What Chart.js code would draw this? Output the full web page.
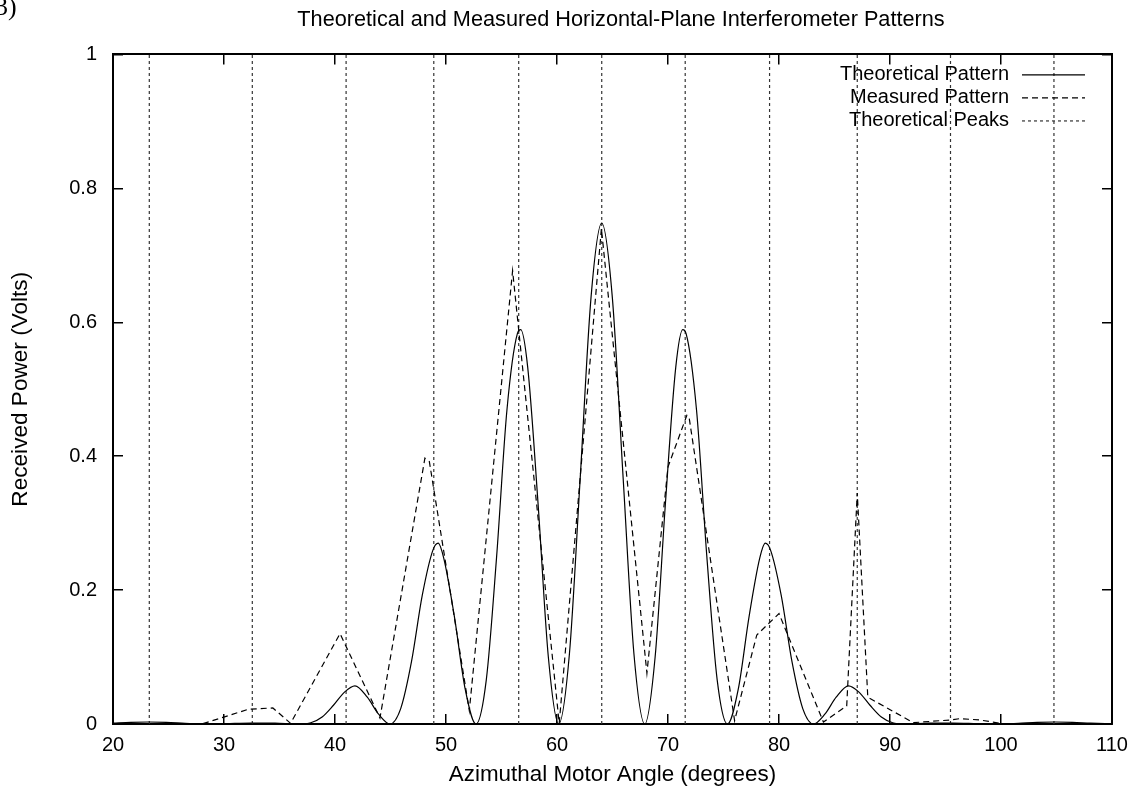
<!DOCTYPE html>
<html>
<head>
<meta charset="utf-8">
<script src="https://cdn.jsdelivr.net/npm/chart.js@4/dist/chart.umd.min.js"></script>
<style>
html,body{margin:0;padding:0;background:#fff;}
#wrap{width:1140px;height:799px;position:relative;}
canvas{display:block;}
</style>
</head>
<body>
<div id="wrap"><canvas id="c" width="1140" height="799"></canvas></div>
<script>
// ---- text ----
const titleText = 'Theoretical and Measured Horizontal-Plane Interferometer Patterns';
const xTitle = 'Azimuthal Motor Angle (degrees)';
const yTitle = 'Received Power (Volts)';
const seriesNames = ['Theoretical Pattern', 'Measured Pattern', 'Theoretical Peaks'];
const cornerLabel = '3)';

// ---- tick labels ----
const xTickValues = [20, 30, 40, 50, 60, 70, 80, 90, 100, 110];
const yTickValues = [0, 0.2, 0.4, 0.6, 0.8, 1];

// ---- theoretical pattern ----
const theoAngles = [20, 21.6, 23.2, 24.8, 26.5, 28.05, 30.2, 32.4, 34.6, 36.8,
  37.82, 38.84, 39.86, 40.88, 41.8, 42.91, 43.93, 44.95,
  45.92, 46.89, 47.86, 48.83, 49.3, 49.79, 50.76, 51.73, 52.7,
  53.63, 54.56, 55.49, 56.43, 56.73, 57.36, 58.29, 59.22, 60.15,
  61.12, 62.09, 63.06, 64.03, 64.99, 65.96, 66.93, 67.91,
  68.84, 69.77, 70.70, 71.33, 71.63, 72.57, 73.50, 74.43, 75.36,
  76.33, 77.30, 78.27, 78.76, 79.23, 80.20, 81.17, 82.14, 83.11,
  84.13, 85.15, 86.26, 87.18, 88.2, 89.22, 90.24, 91.26,
  93.46, 95.66, 97.86, 100.01, 101.56, 103.26, 104.86, 106.46, 108.06, 110];
const theoPower = [0.0012, 0.0025, 0.003, 0.0025, 0.001, 0, 0.0007, 0.0015, 0.0012, 0,
  0.0018, 0.0105, 0.028, 0.048, 0.057, 0.04, 0.0146, 0,
  0.023, 0.093, 0.192, 0.26, 0.27, 0.248, 0.16, 0.052, 0,
  0.066, 0.25, 0.469, 0.583, 0.589, 0.533, 0.33, 0.10, 0,
  0.105, 0.367, 0.636, 0.748, 0.636, 0.367, 0.105, 0,
  0.10, 0.33, 0.533, 0.589, 0.583, 0.469, 0.25, 0.066, 0,
  0.052, 0.16, 0.248, 0.27, 0.26, 0.192, 0.093, 0.023, 0,
  0.0146, 0.04, 0.057, 0.048, 0.028, 0.0105, 0.0018, 0,
  0.0012, 0.0015, 0.0007, 0, 0.001, 0.0025, 0.003, 0.0025, 0.0012, 0.0002];

// ---- measured pattern ----
const measAngles = [20, 28.0, 32.2, 34.4, 36.0, 40.45, 44.05, 48.1, 48.5, 52.1,
  56.0, 60.2, 64.0, 68.1, 70.0, 71.7, 71.9, 76.0, 78.0, 80.0,
  84.0, 86.1, 87.05, 88.0, 92.1, 95.4, 96.3, 98.1, 100.0];
const measPower = [0, 0, 0.022, 0.024, 0.001, 0.135, 0.009, 0.397, 0.392, 0.02,
  0.677, 0.001, 0.74, 0.076, 0.384, 0.461, 0.458, 0.005, 0.133, 0.165,
  0.003, 0.027, 0.345, 0.04, 0.002, 0.006, 0.008, 0.006, 0.001];

// ---- theoretical peak angles (vertical markers) ----
const peakAngles = [23.27, 32.55, 41.0, 48.9, 56.55, 64.03, 71.55, 79.15, 87.05, 95.45, 104.77];
const peakSpan = [0, 1];

const FONT = 'Liberation Sans';

const theoData = theoAngles.map((a, i) => ({x: a, y: theoPower[i]}));
const measData = measAngles.map((a, i) => ({x: a, y: measPower[i]}));
const peakData = [];
peakAngles.forEach(a => {
  peakData.push({x: a, y: peakSpan[0]}, {x: a, y: peakSpan[1]}, {x: a, y: null});
});

const inwardGrid = {
  display: true, drawOnChartArea: false, drawTicks: true,
  tickLength: -10, color: '#000', lineWidth: 1.5
};
const frameBorder = {display: true, color: '#000', width: 2};

const overlay = {
  id: 'overlay',
  afterLayout(chart) {
    if (chart.titleBlock) { chart.titleBlock.left += 17; }
  },
  afterDraw(chart) {
    const ctx = chart.ctx;
    const ca = chart.chartArea;
    ctx.save();
    ctx.font = '20px "' + FONT + '"';
    ctx.fillStyle = '#000';
    ctx.textAlign = 'right';
    ctx.textBaseline = 'middle';
    chart.data.datasets.forEach((d, i) => {
      const y = ca.top + 20.5 + i * 23;
      ctx.fillText(d.label, ca.right - 103, y);
      ctx.beginPath();
      ctx.setLineDash(d.borderDash || []);
      ctx.strokeStyle = d.borderColor;
      ctx.lineWidth = d.borderWidth;
      ctx.moveTo(ca.right - 90, y);
      ctx.lineTo(ca.right - 27, y);
      ctx.stroke();
    });
    ctx.setLineDash([]);
    ctx.font = '26px "Liberation Serif"';
    ctx.textAlign = 'left';
    ctx.textBaseline = 'alphabetic';
    ctx.fillText(cornerLabel, -5, 15);
    ctx.restore();
  }
};

new Chart(document.getElementById('c'), {
  type: 'line',
  data: {
    datasets: [
      {label: seriesNames[0], data: theoData, borderColor: '#000', borderWidth: 1.2,
       pointRadius: 0, fill: false, cubicInterpolationMode: 'monotone'},
      {label: seriesNames[1], data: measData, borderColor: '#000', borderWidth: 1.2,
       borderDash: [6, 4], pointRadius: 0, fill: false, tension: 0},
      {label: seriesNames[2], data: peakData, borderColor: '#333', borderWidth: 1.2,
       borderDash: [3, 3], pointRadius: 0, fill: false, tension: 0, spanGaps: false}
    ]
  },
  options: {
    responsive: false,
    devicePixelRatio: 1,
    animation: false,
    layout: {padding: 0},
    plugins: {
      legend: {display: false},
      tooltip: {enabled: false},
      title: {
        display: true, text: titleText, fullSize: false, color: '#000',
        font: {family: FONT, size: 21.7, weight: 'normal'},
        padding: {top: 7, bottom: 0}
      }
    },
    scales: {
      x: {
        type: 'linear', position: 'bottom', min: 20, max: 110,
        afterBuildTicks: s => { s.ticks = xTickValues.map(v => ({value: v})); },
        afterFit: s => { s.height = 75; s.paddingRight = 0; s.paddingLeft = 0; },
        ticks: {color: '#000', font: {family: FONT, size: 20}, padding: 19, maxRotation: 0},
        grid: inwardGrid, border: frameBorder,
        title: {display: true, text: xTitle, color: '#000',
                font: {family: FONT, size: 22.4}, padding: {top: 0, bottom: 10.6}}
      },
      x2: {
        type: 'linear', position: 'top', min: 20, max: 110,
        afterBuildTicks: s => { s.ticks = xTickValues.map(v => ({value: v})); },
        afterFit: s => { s.height = 21.4; s.paddingRight = 0; s.paddingLeft = 0; },
        ticks: {display: false},
        grid: inwardGrid, border: frameBorder
      },
      y: {
        type: 'linear', position: 'left', min: 0, max: 1,
        afterBuildTicks: s => { s.ticks = yTickValues.map(v => ({value: v})); },
        afterFit: s => { s.width = 113; },
        ticks: {color: '#000', font: {family: FONT, size: 20}, padding: 26,
                callback: v => Number(v).toString()},
        grid: inwardGrid, border: frameBorder,
        title: {display: true, text: yTitle, color: '#000',
                font: {family: FONT, size: 22.6}, padding: {top: 7.5, bottom: 0}}
      },
      y2: {
        type: 'linear', position: 'right', min: 0, max: 1,
        afterBuildTicks: s => { s.ticks = yTickValues.map(v => ({value: v})); },
        afterFit: s => { s.width = 28; },
        ticks: {display: false},
        grid: inwardGrid, border: frameBorder
      }
    }
  },
  plugins: [overlay]
});
</script>
</body>
</html>
